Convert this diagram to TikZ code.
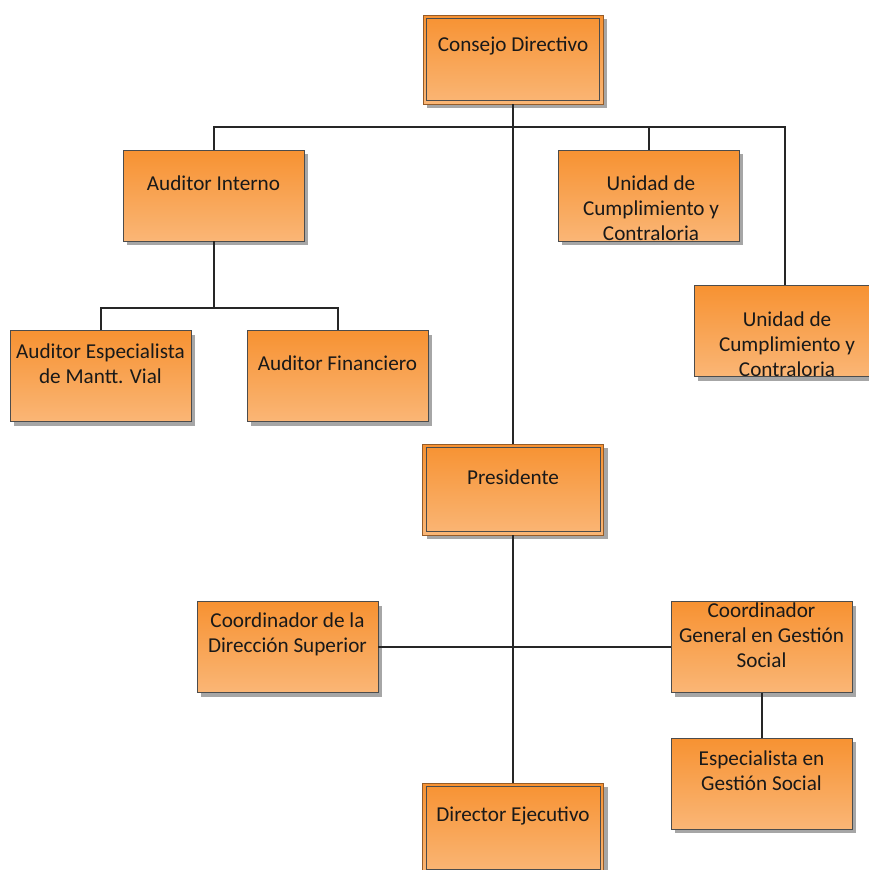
\documentclass[tikz,border=0pt]{standalone}
\usepackage{fontspec}
\setmainfont{Carlito}
\usetikzlibrary{shadows,calc}
\definecolor{otop}{RGB}{247,146,50}
\definecolor{obot}{RGB}{250,182,118}
\definecolor{obrd}{RGB}{150,92,40}
\tikzset{
  box/.style={draw=black!70, line width=0.9pt, top color=otop, bottom color=obot,
    minimum width=181pt, minimum height=91pt, inner sep=0pt,
    drop shadow={shadow xshift=4pt, shadow yshift=-4pt, fill=black!35, opacity=1}},
  dbox/.style={box, draw=obrd},
  inner/.style={draw=black!70, line width=0.8pt},
  lbl/.style={font=\fontsize{21.2}{25}\selectfont, align=center, inner sep=0pt, text=black!90},
  conn/.style={draw=black!85, line width=2pt}
}
\begin{document}
\begin{tikzpicture}[x=1pt,y=-1pt]
\useasboundingbox (0,0) rectangle (869,870);
% boxes
\node[dbox, minimum width=180pt, minimum height=89pt] (cd) at (513,59.5) {};
\node[box] (ai) at (213.5,195.5) {};
\node[box] (u1) at (648.5,195.5) {};
\node[box] (u2) at (784.5,331) {};
\node[box] (ae) at (100.5,376) {};
\node[box] (af) at (337.5,376) {};
\node[dbox] (pr) at (513,489.5) {};
\node[box] (cds) at (287.5,647) {};
\node[box] (cg) at (761.5,647) {};
\node[box] (es) at (761.5,783.5) {};
\node[dbox, minimum height=90pt] (de) at (513,828) {};
% inner borders of double boxes
\draw[inner] ($(cd.north west)+(4,4)$) rectangle ($(cd.south east)+(-4,-4)$);
\draw[inner] ($(pr.north west)+(4,4)$) rectangle ($(pr.south east)+(-4,-4)$);
\draw[inner] ($(de.north west)+(4,4)$) rectangle ($(de.south east)+(-4,-4)$);
% connectors
\draw[conn] (cd.south) -- (pr.north);
\draw[conn] (ai.north) -- ++(0,-23) -| (u2.north);
\draw[conn] (u1.north) -- ++(0,-23);
\draw[conn] (ai.south) -- ++(0,67) coordinate (bsub);
\draw[conn] (ae.north) |- (af.north |- bsub) -- (af.north);
\draw[conn] (pr.south) -- (de.north);
\draw[conn] (cds.east) -- (cg.west);
\draw[conn] (cg.south) -- (es.north);
% labels
\node[lbl] (tcd) at (513,46) {Consejo Directivo};
\node[lbl] (tai) at (213.5,183) {Auditor Interno};
\node[lbl] (tu1) at (651,208) {Unidad de\\Cumplimiento y\\Contraloria};
\node[lbl] (tu2) at (787,344) {Unidad de\\Cumplimiento y\\Contraloria};
\node[lbl] (tae) at (100.5,364) {Auditor Especialista\\de Mantt. Vial};
\node[lbl] (taf) at (337.5,363) {Auditor Financiero};
\node[lbl] (tpr) at (513,477) {Presidente};
\node[lbl] (tcds) at (287.5,634.5) {Coordinador de la\\Dirección Superior};
\node[lbl] (tcg) at (761.5,635) {Coordinador\\General en Gestión\\Social};
\node[lbl] (tes) at (761.5,770.5) {Especialista en\\Gestión Social};
\node[lbl] (tde) at (513,816) {Director Ejecutivo};
\end{tikzpicture}
\end{document}
